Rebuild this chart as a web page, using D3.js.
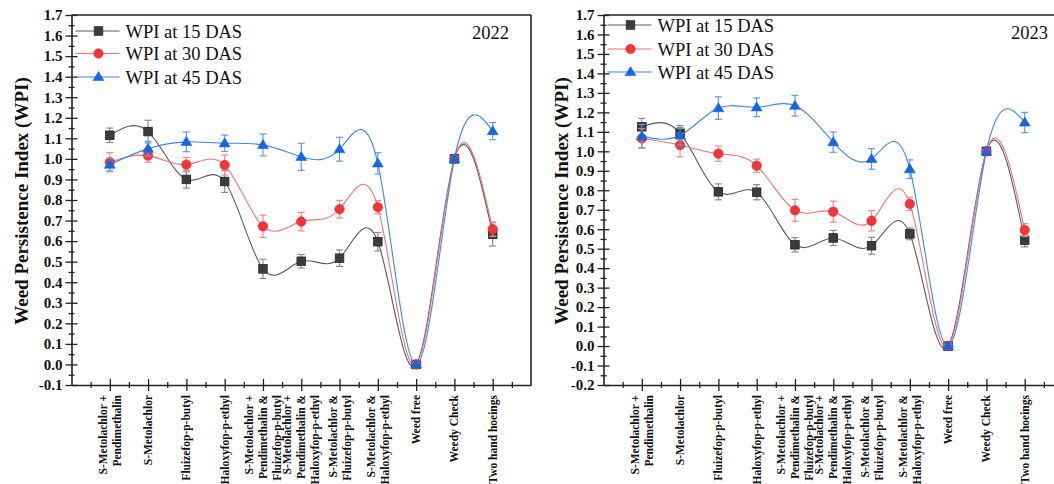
<!DOCTYPE html>
<html>
<head>
<meta charset="utf-8">
<title>Weed Persistence Index</title>
<script src="https://cdn.jsdelivr.net/npm/d3@7/dist/d3.min.js"></script>
<style>
  body { margin: 0; background: #ffffff; }
  svg { display: block; font-family: "Liberation Serif", "Times New Roman", serif; }
</style>
</head>
<body>
<div id="chart"></div>
<script>
// categories (each label split into the lines shown under the axis)
var categories = [
  ["S-Metolachlor +", "Pendimethalin"],
  ["S-Metolachlor"],
  ["Fluizefop-p-butyl"],
  ["Haloxyfop-p-ethyl"],
  ["S-Metolachlor +", "Pendimethalin &", "Fluizefop-p-butyl"],
  ["S-Metolachlor +", "Pendimethalin &", "Haloxyfop-p-ethyl"],
  ["S-Metolachlor &", "Fluizefop-p-butyl"],
  ["S-Metolachlor &", "Haloxyfop-p-ethyl"],
  ["Weed free"],
  ["Weedy Check"],
  ["Two hand hoeings"]
];
var seriesNames = ["WPI at 15 DAS", "WPI at 30 DAS", "WPI at 45 DAS"];
var years = ["2022", "2023"];

// 2022
var wpi15_2022 = [1.115, 1.133, 0.900, 0.890, 0.465, 0.502, 0.517, 0.597, 0.000, 1.000, 0.633];
var err15_2022 = [0.035, 0.055, 0.042, 0.053, 0.047, 0.033, 0.040, 0.045, 0.005, 0.005, 0.057];
var wpi30_2022 = [0.984, 1.016, 0.972, 0.970, 0.672, 0.695, 0.755, 0.765, 0.000, 1.000, 0.658];
var err30_2022 = [0.047, 0.032, 0.035, 0.049, 0.054, 0.045, 0.043, 0.032, 0.005, 0.005, 0.035];
var wpi45_2022 = [0.972, 1.050, 1.083, 1.076, 1.068, 1.010, 1.047, 0.978, 0.000, 1.000, 1.135];
var err45_2022 = [0.030, 0.036, 0.048, 0.040, 0.053, 0.066, 0.058, 0.052, 0.005, 0.005, 0.042];

// 2023
var wpi15_2023 = [1.126, 1.093, 0.792, 0.790, 0.520, 0.555, 0.515, 0.576, 0.000, 1.000, 0.543];
var err15_2023 = [0.043, 0.030, 0.041, 0.039, 0.037, 0.039, 0.043, 0.030, 0.005, 0.005, 0.034];
var wpi30_2023 = [1.066, 1.032, 0.988, 0.926, 0.697, 0.690, 0.643, 0.730, 0.000, 1.000, 0.596];
var err30_2023 = [0.050, 0.060, 0.039, 0.034, 0.056, 0.054, 0.052, 0.034, 0.005, 0.005, 0.033];
var wpi45_2023 = [1.078, 1.082, 1.222, 1.226, 1.234, 1.047, 0.961, 0.908, 0.000, 1.000, 1.148];
var err45_2023 = [0.060, 0.050, 0.058, 0.048, 0.053, 0.052, 0.053, 0.048, 0.005, 0.005, 0.052];

var yTitle = "Weed Persistence Index (WPI)";

var W = 1054, H = 484;
var svg = d3.select("#chart").append("svg").attr("width", W).attr("height", H);

var styles = [
  { line: "#5a5a5a", err: "#8c8c8c", fill: "#3c3c3c", stroke: "#262626", shape: "square" },
  { line: "#f27272", err: "#f08a8a", fill: "#f0363b", stroke: "#e22a2a", shape: "circle" },
  { line: "#3f86e6", err: "#5d9cef", fill: "#1766de", stroke: "#1766de", shape: "triangle" }
];

var panels = [
  { year: years[0], left: 71.5, right: 531, ymin: -1, ymax: 17,
    series: [[wpi15_2022, err15_2022], [wpi30_2022, err30_2022], [wpi45_2022, err45_2022]],
    titleX: 21, legendY: [31, 53.5, 77], yearX: 509 },
  { year: years[1], left: 603.5, right: 1063, ymin: -2, ymax: 17,
    series: [[wpi15_2023, err15_2023], [wpi30_2023, err30_2023], [wpi45_2023, err45_2023]],
    titleX: 561, legendY: [25, 49, 72], yearX: 1048 }
];

var plotTop = 15, plotBottom = 385;

function drawMarker(g, shape, cx, cy, st, s) {
  if (shape === "square") {
    g.append("rect").attr("x", cx - s * 0.9 / 2).attr("y", cy - s * 0.9 / 2)
      .attr("width", s * 0.9).attr("height", s * 0.9)
      .attr("fill", st.fill).attr("stroke", st.stroke).attr("stroke-width", 0.8);
  } else if (shape === "circle") {
    g.append("circle").attr("cx", cx).attr("cy", cy).attr("r", s / 2)
      .attr("fill", st.fill).attr("stroke", st.stroke).attr("stroke-width", 0.6);
  } else {
    var h = s * 0.95, w = s * 1.15;
    g.append("path")
      .attr("d", "M" + cx + "," + (cy - h * 0.6) + "L" + (cx + w / 2) + "," + (cy + h * 0.4) +
                 "L" + (cx - w / 2) + "," + (cy + h * 0.4) + "Z")
      .attr("fill", st.fill).attr("stroke", st.stroke).attr("stroke-width", 0.6);
  }
}

panels.forEach(function (p) {
  var g = svg.append("g");
  var x = d3.scaleLinear().domain([0, 12]).range([p.left, p.right]);
  var y = d3.scaleLinear().domain([p.ymin / 10, p.ymax / 10]).range([plotBottom, plotTop]);

  // frame top / right
  g.append("line").attr("x1", p.left).attr("x2", p.right).attr("y1", plotTop).attr("y2", plotTop)
    .attr("stroke", "#222").attr("stroke-width", 1.6);
  g.append("line").attr("x1", p.right).attr("x2", p.right).attr("y1", plotTop).attr("y2", plotBottom)
    .attr("stroke", "#222").attr("stroke-width", 1.6);

  // y axis
  var majors = d3.range(p.ymin, p.ymax + 1).map(function (d) { return d / 10; });
  var minors = d3.range(p.ymin, p.ymax).map(function (d) { return (d + 0.5) / 10; });
  var yAx = g.append("g").attr("transform", "translate(" + p.left + ",0)")
    .call(d3.axisLeft(y).tickValues(majors).tickSize(6).tickSizeOuter(0)
      .tickFormat(function (d) { return (Math.round(d * 10) / 10).toFixed(1); }));
  yAx.selectAll(".tick line").attr("x1", 6);
  yAx.selectAll(".tick text").attr("x", -9).attr("font-size", 15).attr("font-weight", "bold")
    .attr("font-family", "Liberation Serif, serif").attr("fill", "#111");
  var yMin = g.append("g").attr("transform", "translate(" + p.left + ",0)")
    .call(d3.axisLeft(y).tickValues(minors).tickSize(3).tickSizeOuter(0).tickFormat(""));
  yMin.selectAll(".tick line").attr("x1", 3);
  yMin.select(".domain").remove();

  // x axis
  var xAx = g.append("g").attr("transform", "translate(0," + plotBottom + ")")
    .call(d3.axisBottom(x).tickValues(d3.range(1, 12)).tickSize(6).tickSizeOuter(0).tickFormat(""));
  xAx.selectAll(".tick line").attr("y1", -6);
  var xMin = g.append("g").attr("transform", "translate(0," + plotBottom + ")")
    .call(d3.axisBottom(x).tickValues(d3.range(0.5, 12, 1)).tickSize(3).tickSizeOuter(0).tickFormat(""));
  xMin.selectAll(".tick line").attr("y1", -3);
  xMin.select(".domain").remove();

  g.selectAll(".domain").attr("stroke", "#222").attr("stroke-width", 1.6);
  g.selectAll(".tick line").attr("stroke", "#222").attr("stroke-width", 1.3);

  // category labels
  categories.forEach(function (lines, i) {
    var t = g.append("text")
      .attr("transform", "translate(" + x(i + 1) + "," + (plotBottom + 10) + ") rotate(-90)")
      .attr("text-anchor", "end").attr("font-size", 11.5).attr("font-weight", "bold").attr("fill", "#111");
    var lh = 14;
    lines.forEach(function (l, k) {
      t.append("tspan").attr("x", 0)
        .attr("y", (k - (lines.length - 1) / 2) * lh + 4)
        .text(l);
    });
  });

  // y title
  g.append("text").attr("transform", "translate(" + p.titleX + "," + 201 + ") rotate(-90)")
    .attr("text-anchor", "middle").attr("dominant-baseline", "central")
    .attr("font-size", 19).attr("font-weight", "bold").attr("fill", "#111").text(yTitle);

  // year label
  g.append("text").attr("x", p.yearX).attr("y", 39).attr("text-anchor", "end")
    .attr("font-size", 18.5).attr("fill", "#111").text(p.year);

  // series
  var line = d3.line()
    .x(function (d, i) { return x(i + 1); })
    .y(function (d) { return y(d); })
    .curve(d3.curveNatural);

  p.series.forEach(function (s, si) {
    var st = styles[si];
    var vals = s[0], errs = s[1];
    g.append("path").datum(vals).attr("d", line)
      .attr("fill", "none").attr("stroke", st.line).attr("stroke-width", 1.1);

    var eg = g.append("g").attr("stroke", st.err).attr("stroke-width", 1.2);
    vals.forEach(function (v, i) {
      var cx = x(i + 1), y1 = y(v + errs[i]), y2 = y(v - errs[i]);
      eg.append("line").attr("x1", cx).attr("x2", cx).attr("y1", y1).attr("y2", y2);
      eg.append("line").attr("x1", cx - 3.5).attr("x2", cx + 3.5).attr("y1", y1).attr("y2", y1);
      eg.append("line").attr("x1", cx - 3.5).attr("x2", cx + 3.5).attr("y1", y2).attr("y2", y2);
    });

    var mg = g.append("g");
    vals.forEach(function (v, i) {
      drawMarker(mg, st.shape, x(i + 1), y(v), st, 9.5);
    });
  });

  // legend
  var lx0 = p.left + 4, lx1 = p.left + 48;
  seriesNames.forEach(function (name, si) {
    var st = styles[si], ly = p.legendY[si];
    g.append("line").attr("x1", lx0).attr("x2", lx1).attr("y1", ly).attr("y2", ly)
      .attr("stroke", st.line).attr("stroke-width", 1.1);
    drawMarker(g, st.shape, (lx0 + lx1) / 2 + 1, ly, st, 9.5);
    g.append("text").attr("x", lx1 + 6).attr("y", ly).attr("dy", "0.36em")
      .attr("font-size", 18.5).attr("fill", "#111").text(name);
  });
});
</script>
</body>
</html>
